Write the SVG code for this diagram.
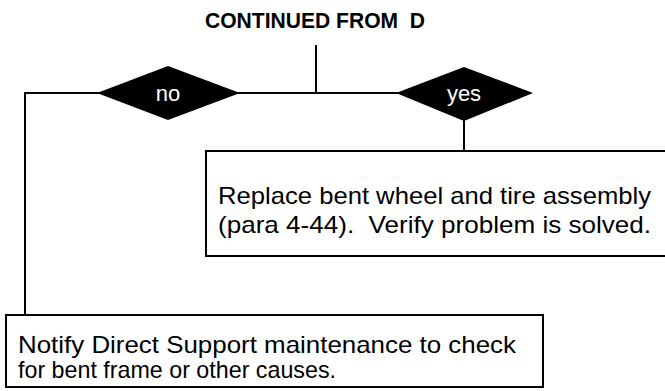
<svg xmlns="http://www.w3.org/2000/svg" width="665" height="391" viewBox="0 0 665 391">
<style>
.ln{stroke:#000;stroke-width:2;fill:none}
.box{stroke:#000;stroke-width:2;fill:#fff}
.dia{fill:#000}
text{white-space:pre}
.t{font-family:"Liberation Sans",Arial,sans-serif;font-size:24px;fill:#000}
.dt{font-family:"Liberation Sans",Arial,sans-serif;font-size:22px;fill:#fff;text-anchor:middle}
.title{font-family:"Liberation Sans",Arial,sans-serif;font-size:22px;font-weight:bold;fill:#000}
</style>
<rect width="665" height="391" fill="#fff"/>
<g id="title"><text class="title" x="205" y="28" textLength="220" lengthAdjust="spacingAndGlyphs" xml:space="preserve">CONTINUED FROM  D</text></g>
<g id="connectors">
<line class="ln" x1="316" y1="45" x2="316" y2="93"/>
<line class="ln" x1="25" y1="93" x2="400" y2="93"/>
<line class="ln" x1="25" y1="92" x2="25" y2="315"/>
<line class="ln" x1="464" y1="115" x2="464" y2="151"/>
</g>
<g id="no-diamond"><polygon class="dia" points="97,93 168,66 240,93 168,120"/><text class="dt" x="168" y="101">no</text></g>
<g id="yes-diamond"><polygon class="dia" points="396,93 464,67 533,93 464,121"/><text class="dt" x="464" y="101">yes</text></g>
<g id="yes-box"><rect class="box" x="206" y="151" width="470" height="105"/>
<text class="t" x="218" y="204" textLength="433" lengthAdjust="spacingAndGlyphs">Replace bent wheel and tire assembly</text>
<text class="t" x="218" y="233" textLength="433" lengthAdjust="spacingAndGlyphs" xml:space="preserve">(para 4-44).  Verify problem is solved.</text></g>
<g id="no-box"><rect class="box" x="6" y="315" width="537" height="72"/>
<text class="t" x="18" y="353" textLength="498" lengthAdjust="spacingAndGlyphs">Notify Direct Support maintenance to check</text>
<text class="t" x="18" y="378" textLength="318" lengthAdjust="spacingAndGlyphs">for bent frame or other causes.</text></g>
</svg>
